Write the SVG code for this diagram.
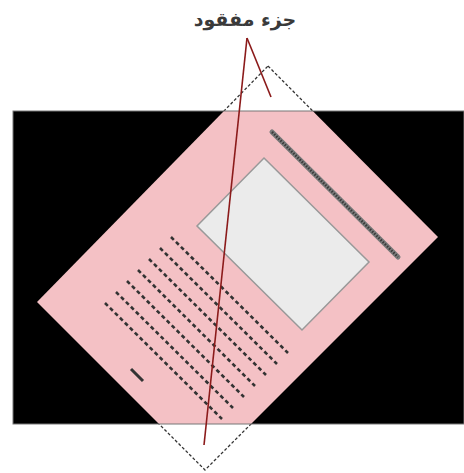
<svg xmlns="http://www.w3.org/2000/svg" width="464" height="473" viewBox="0 0 464 473">
  <defs>
    <style>
      .outline { fill: #ffffff; stroke: #333333; stroke-width: 1.3; stroke-dasharray: 3 2; }
      .page { fill: #f4c1c5; }
      .txt { stroke: #333333; stroke-width: 2.6; stroke-dasharray: 4 3; fill: none; }
      .callout { stroke: #8b1a1a; stroke-width: 1.6; fill: none; }
      .label { font-family: "DejaVu Sans", "Noto Sans", sans-serif; font-weight: bold; font-size: 19px; fill: #3a3a3a; }
    </style>
    <clipPath id="inner">
      <rect x="13" y="111" width="451" height="313"/>
    </clipPath>
  </defs>

  <g id="document-outline">
    <polygon class="outline" points="268,66 438,237 205,470 37,302"/>
  </g>

  <g id="scan-area">
    <rect x="13" y="111" width="451" height="313" fill="#000000"/>
  </g>

  <g id="document" clip-path="url(#inner)">
    <polygon class="page" points="268,66 438,237 205,470 37,302"/>
    <polygon points="264,158 369,262 302,330 197,226" fill="#ebebeb" stroke="#999999" stroke-width="1.5"/>
    <line x1="272" y1="132" x2="398" y2="257" stroke="#7a7a7a" stroke-width="5" stroke-linecap="round"/>
    <line x1="272" y1="132" x2="398" y2="257" stroke="#3a3a3a" stroke-width="2.5" stroke-dasharray="1.5 1.5"/>
    <g id="text-lines">
      <line class="txt" x1="171" y1="237" x2="288" y2="353"/>
      <line class="txt" x1="160" y1="248" x2="277" y2="364"/>
      <line class="txt" x1="149" y1="259" x2="266" y2="375"/>
      <line class="txt" x1="138" y1="270" x2="255" y2="386"/>
      <line class="txt" x1="127" y1="281" x2="244" y2="397"/>
      <line class="txt" x1="116" y1="292" x2="233" y2="408"/>
      <line class="txt" x1="105" y1="303" x2="222" y2="419"/>
    </g>
    <line x1="131" y1="369" x2="143" y2="381" stroke="#333333" stroke-width="3"/>
  </g>

  <g id="scan-border">
    <rect x="13" y="111" width="451" height="313" fill="none" stroke="#777777" stroke-width="1"/>
  </g>

  <g id="connectors">
    <line class="callout" x1="247" y1="38" x2="271" y2="97"/>
    <line class="callout" x1="247" y1="38" x2="204" y2="445"/>
  </g>

  <g id="label-missing-part">
    <text class="label" x="245" y="26" text-anchor="middle">جزء مفقود</text>
  </g>
</svg>
